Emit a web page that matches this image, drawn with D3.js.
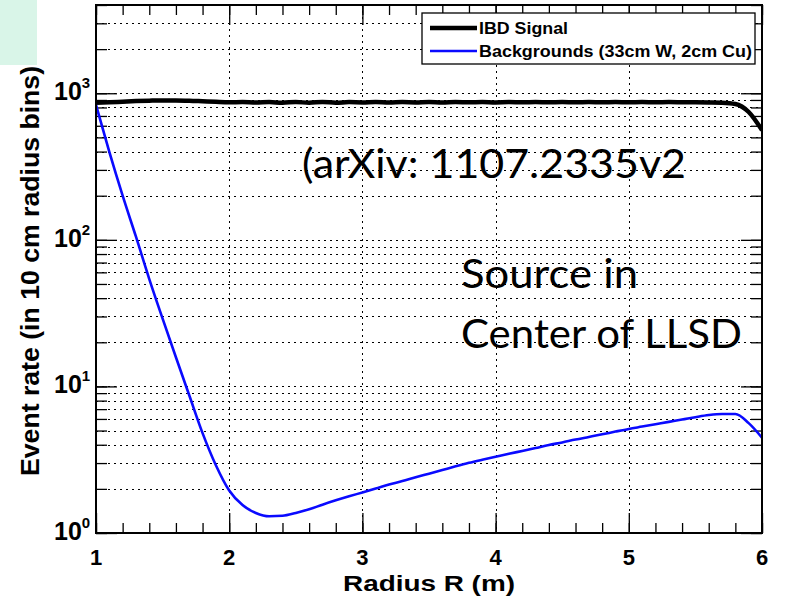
<!DOCTYPE html>
<html lang="en">
<head>
<meta charset="utf-8">
<title>Event rate vs radius</title>
<script src="https://cdn.jsdelivr.net/npm/d3@7"></script>
<style>
  body { margin: 0; background: #fff; }
  svg { display: block; }
</style>
</head>
<body>
<svg id="chart" width="786" height="600"></svg>
<script>
// radius bins (m), 10 cm apart
var radius = [1.0,1.1,1.2,1.3,1.4,1.5,1.6,1.7,1.8,1.9,2.0,2.1,2.2,2.3,2.4,2.5,2.6,2.7,2.8,2.9,
              3.0,3.1,3.2,3.3,3.4,3.5,3.6,3.7,3.8,3.9,4.0,4.1,4.2,4.3,4.4,4.5,4.6,4.7,4.8,4.9,
              5.0,5.1,5.2,5.3,5.4,5.5,5.6,5.7,5.8,5.9,6.0];
var ibdSignal = [862,868,876,884,890,894,894,890,882,874,868,870,865,870,862,872,861,873,862,870,
                 866,872,864,870,866,871,865,870,867,871,866,870,868,871,867,870,868,870,868,870,
                 869,870,868,870,869,868,866,862,845,745,560];
var backgrounds = [832,398,200,105,54,29,15.8,8.7,4.8,2.9,1.95,1.55,1.37,1.30,1.31,1.37,1.45,1.56,1.67,1.78,
                   1.89,2.01,2.14,2.26,2.40,2.54,2.69,2.85,3.01,3.16,3.31,3.47,3.63,3.80,3.98,4.15,4.34,4.52,4.71,4.92,
                   5.13,5.32,5.52,5.73,5.94,6.17,6.38,6.49,6.49,5.62,4.47];
var xTicks = [1,2,3,4,5,6];
var xMinor = d3.range(1, 6.001, 0.2);
var yDecades = [0,1,2,3];
var legendLabels = ["IBD Signal", "Backgrounds (33cm W, 2cm Cu)"];

var svg = d3.select("#chart");
var L = 96, R = 762, T = 5, B = 533;
var x = d3.scaleLinear().domain([1, 6]).range([L, R]);
var y = d3.scaleLog().domain([1, 4000]).range([B, T]);

// slide leftover in the corner
svg.append("rect").attr("x", 0).attr("y", 0).attr("width", 37).attr("height", 65).attr("fill", "#d9f5e8");

// minor log values for grid / ticks
var yMinor = [];
yDecades.forEach(function(d) {
  for (var k = 1; k <= 9; k++) {
    var v = k * Math.pow(10, d);
    if (v <= 4000) yMinor.push(v);
  }
});

// grid
var grid = svg.append("g").attr("stroke", "#000").attr("stroke-width", 1).attr("stroke-dasharray", "2,4");
grid.selectAll(".hg").data(yMinor.filter(function(v){ return v > 1; })).enter().append("line")
  .attr("x1", L).attr("x2", R).attr("y1", function(d){ return Math.round(y(d)) + 0.5; })
  .attr("y2", function(d){ return Math.round(y(d)) + 0.5; });
grid.selectAll(".vg").data([2,3,4,5]).enter().append("line")
  .attr("y1", T).attr("y2", B).attr("x1", function(d){ return Math.round(x(d)) + 0.5; })
  .attr("x2", function(d){ return Math.round(x(d)) + 0.5; });

// ticks (inward, all four sides)
function tickAxis(axis, tr) {
  var g = svg.append("g").attr("transform", tr).call(axis);
  g.select(".domain").remove();
  g.selectAll("line").attr("stroke", "#000").attr("stroke-width", 1.3);
  g.selectAll("text").remove();
  return g;
}
tickAxis(d3.axisBottom(x).tickValues(xMinor).tickSize(-10), "translate(0," + B + ")");
tickAxis(d3.axisBottom(x).tickValues(xTicks).tickSize(-20), "translate(0," + B + ")");
tickAxis(d3.axisTop(x).tickValues(xMinor).tickSize(-10), "translate(0," + T + ")");
tickAxis(d3.axisTop(x).tickValues(xTicks).tickSize(-20), "translate(0," + T + ")");
tickAxis(d3.axisLeft(y).tickValues(yMinor).tickSize(-11), "translate(" + L + ",0)");
tickAxis(d3.axisLeft(y).tickValues(yDecades.map(function(d){ return Math.pow(10, d); })).tickSize(-21), "translate(" + L + ",0)");
tickAxis(d3.axisRight(y).tickValues(yMinor).tickSize(-11), "translate(" + R + ",0)");
tickAxis(d3.axisRight(y).tickValues(yDecades.map(function(d){ return Math.pow(10, d); })).tickSize(-21), "translate(" + R + ",0)");

// curves
var clip = svg.append("clipPath").attr("id", "clip").append("rect")
  .attr("x", L).attr("y", T).attr("width", R - L).attr("height", B - T);
var line = d3.line().curve(d3.curveMonotoneX)
  .x(function(d, i){ return x(radius[i]); })
  .y(function(d){ return y(d); });
svg.append("path").datum(ibdSignal).attr("clip-path", "url(#clip)")
  .attr("fill", "none").attr("stroke", "#000").attr("stroke-width", 4.5).attr("d", line);
svg.append("path").datum(backgrounds).attr("clip-path", "url(#clip)")
  .attr("fill", "none").attr("stroke", "#0a0aff").attr("stroke-width", 2.6).attr("d", line);

// frame
svg.append("rect").attr("x", L).attr("y", T).attr("width", R - L).attr("height", B - T)
  .attr("fill", "none").attr("stroke", "#000").attr("stroke-width", 2);

// tick labels
var font = "Arial, 'Liberation Sans', sans-serif";
svg.append("g").selectAll("text").data(xTicks).enter().append("text")
  .attr("x", function(d){ return x(d); }).attr("y", 565)
  .attr("text-anchor", "middle").attr("font-family", font).attr("font-weight", "bold")
  .attr("font-size", 22).text(function(d){ return d; });

var yl = svg.append("g").selectAll("text").data(yDecades).enter().append("text")
  .attr("x", 54).attr("y", function(d){ return y(Math.pow(10, d)) + 7; })
  .attr("font-family", font).attr("font-weight", "bold").attr("font-size", 25);
yl.append("tspan").text("10");
yl.append("tspan").attr("dy", -12).attr("font-size", 15).text(function(d){ return d; });

// axis titles
svg.append("text").attr("x", (L + R) / 2).attr("y", 591).attr("text-anchor", "middle")
  .attr("font-family", font).attr("font-weight", "bold").attr("font-size", 22)
  .attr("textLength", 172).attr("lengthAdjust", "spacingAndGlyphs").text("Radius R (m)");
svg.append("text").attr("transform", "translate(39,271) rotate(-90)").attr("text-anchor", "middle")
  .attr("font-family", font).attr("font-weight", "bold").attr("font-size", 26)
  .attr("textLength", 410).attr("lengthAdjust", "spacingAndGlyphs")
  .text("Event rate (in 10 cm radius bins)");

// legend
var lg = svg.append("g");
lg.append("rect").attr("x", 422).attr("y", 13).attr("width", 333).attr("height", 51)
  .attr("fill", "#fff").attr("stroke", "#000").attr("stroke-width", 1.3);
var legColors = ["#000", "#0a0aff"], legWidths = [4.5, 2.6], legY = [28, 51], legLen = [89, 273];
legendLabels.forEach(function(t, i) {
  lg.append("line").attr("x1", 430).attr("x2", 477).attr("y1", legY[i]).attr("y2", legY[i])
    .attr("stroke", legColors[i]).attr("stroke-width", legWidths[i]);
  lg.append("text").attr("x", 479).attr("y", legY[i] + 6).attr("font-family", font)
    .attr("font-weight", "bold").attr("font-size", 16)
    .attr("textLength", legLen[i]).attr("lengthAdjust", "spacingAndGlyphs").text(t);
});

// slide annotations
var note = "Lato, 'Open Sans', sans-serif";
function annot(t, xx, yy, len) {
  svg.append("text").attr("x", xx).attr("y", yy).attr("font-family", note).attr("font-size", 41)
    .attr("fill", "#000").attr("textLength", len).attr("lengthAdjust", "spacingAndGlyphs").text(t);
}
annot("(arXiv: 1107.2335v2", 302, 178, 384);
annot("Source in", 461, 288, 177);
annot("Center of LLSD", 461, 348, 281);
</script>
</body>
</html>
